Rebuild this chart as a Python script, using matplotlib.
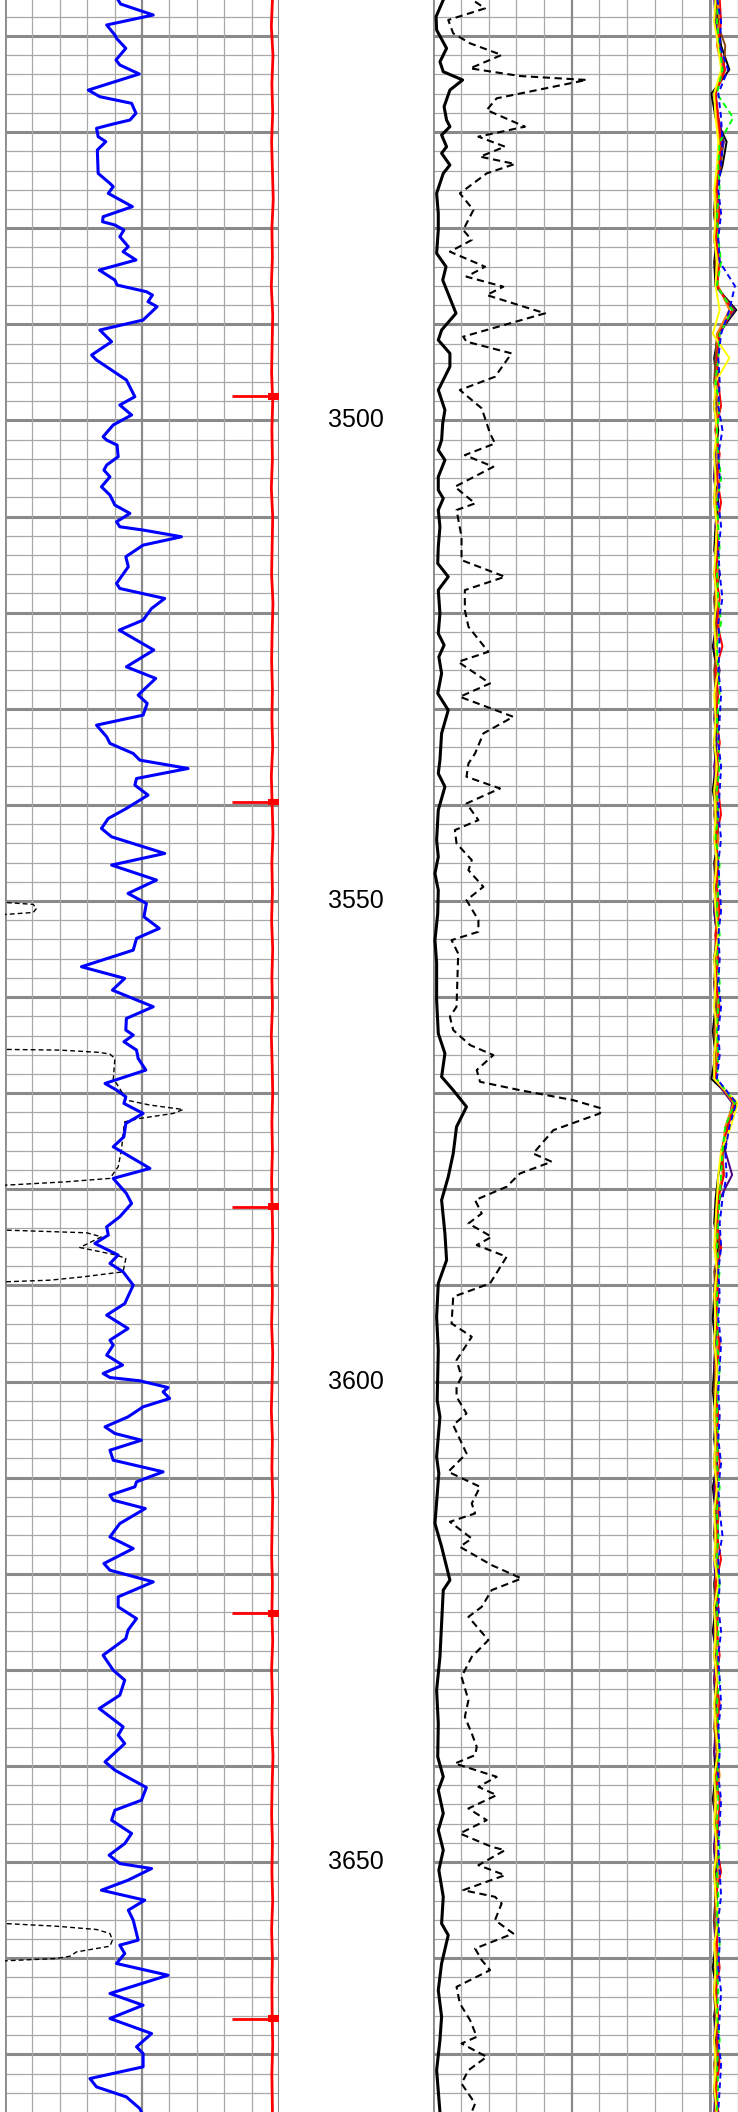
import numpy as np
import matplotlib.pyplot as plt

plt.rcParams['font.family'] = ['Liberation Sans', 'DejaVu Sans']

W, H = 738, 2112
top_md, base_md = 3456.25, 3676.0

# ---- track 1 : gamma ray (blue), dashed curve, red curve + tick marks
gr_md = [3456.25, 3456.67, 3457.81, 3458.85, 3459.89, 3460.24, 3461.28, 3462.49, 3463.01, 3463.95,
         3465.62, 3466.31, 3467.0, 3468.04, 3468.74, 3469.15, 3469.6, 3470.47, 3470.99, 3471.86,
         3474.29, 3475.33, 3475.67, 3476.37, 3477.75, 3478.8, 3479.32, 3479.66, 3480.18, 3480.88,
         3481.92, 3482.44, 3483.3, 3484.35, 3485.39, 3485.91, 3486.6, 3486.95, 3487.64, 3488.16,
         3489.55, 3490.59, 3491.8, 3493.19, 3493.71, 3495.79, 3497.53, 3498.39, 3499.43, 3500.47,
         3501.69, 3502.04, 3502.56, 3503.77, 3504.64, 3505.16, 3505.86, 3506.9, 3507.76, 3508.8,
         3509.67, 3510.54, 3511.06, 3511.4, 3512.1, 3512.97, 3514.18, 3515.22, 3516.96, 3517.48,
         3518.52, 3519.56, 3520.77, 3521.81, 3522.85, 3523.89, 3525.63, 3526.84, 3528.57, 3529.44,
         3530.66, 3531.7, 3532.91, 3533.6, 3534.65, 3535.34, 3536.21, 3537.25, 3537.94, 3538.98,
         3540.37, 3541.41, 3542.45, 3543.32, 3545.05, 3546.26, 3547.82, 3549.21, 3550.25, 3551.64,
         3552.85, 3553.89, 3555.11, 3556.84, 3558.05, 3559.27, 3561.0, 3562.22, 3563.43, 3563.95,
         3564.64, 3565.51, 3566.38, 3567.59, 3568.98, 3569.67, 3570.37, 3571.06, 3572.1, 3573.14,
         3574.53, 3575.57, 3577.82, 3578.86, 3580.43, 3581.47, 3582.85, 3583.9, 3584.76, 3585.63,
         3586.84, 3587.71, 3588.58, 3589.97, 3591.88, 3593.09, 3594.48, 3595.69, 3596.21, 3597.25,
         3598.29, 3599.16, 3599.58, 3599.92, 3600.62, 3601.07, 3601.76, 3602.63, 3603.67, 3604.71,
         3605.4, 3606.1, 3607.14, 3608.18, 3609.39, 3610.43, 3610.95, 3611.82, 3612.34, 3613.21,
         3614.77, 3616.16, 3617.37, 3618.93, 3619.63, 3620.84, 3622.4, 3623.44, 3624.66, 3625.87,
         3626.74, 3628.47, 3630.03, 3631.07, 3632.63, 3634.02, 3635.92, 3636.79, 3637.66, 3639.57,
         3640.43, 3642.24, 3643.56, 3644.6, 3645.64, 3647.02, 3648.07, 3649.28, 3650.15, 3650.67,
         3651.88, 3652.92, 3653.96, 3655.0, 3656.04, 3658.12, 3658.64, 3659.51, 3660.55, 3661.77,
         3663.67, 3664.89, 3666.27, 3667.84, 3669.22, 3669.92, 3671.3, 3672.52, 3673.39, 3674.43,
         3675.64, 3676.0]
gr = [41.3, 42.2, 54.1, 37.1, 40.1, 40.7, 44.1, 40.5, 41.9, 49.0,
      30.4, 34.6, 46.2, 47.8, 45.6, 39.5, 33.4, 34.0, 36.8, 33.7,
      34.0, 38.3, 39.5, 37.7, 46.5, 35.8, 35.6, 40.1, 43.4, 41.9,
      45.0, 43.1, 47.8, 34.4, 40.1, 40.9, 51.6, 53.8, 52.2, 55.5,
      50.4, 34.6, 38.9, 31.6, 33.4, 44.3, 47.4, 41.9, 46.2, 39.5,
      35.8, 37.1, 40.9, 41.3, 37.1, 36.1, 38.3, 35.2, 38.3, 40.1,
      45.6, 40.7, 41.9, 50.4, 64.4, 50.4, 44.1, 45.0, 40.7, 41.9,
      58.3, 53.5, 50.4, 41.7, 48.0, 54.3, 44.3, 55.0, 48.6, 51.9,
      50.4, 33.4, 37.1, 38.3, 46.8, 49.2, 66.8, 48.0, 47.4, 52.2,
      44.3, 37.7, 35.2, 38.9, 58.3, 38.9, 55.3, 44.9, 51.6, 50.7,
      56.3, 48.0, 46.8, 27.9, 43.7, 39.2, 54.1, 44.3, 44.1, 46.8,
      43.4, 48.0, 48.6, 51.4, 36.5, 40.7, 44.1, 43.4, 50.4, 44.1,
      43.4, 39.5, 52.9, 39.5, 44.3, 46.2, 41.9, 37.1, 37.7, 32.8,
      41.3, 38.3, 43.1, 46.8, 43.7, 37.1, 44.9, 38.3, 39.5, 37.1,
      42.9, 35.8, 38.3, 49.2, 59.5, 57.7, 60.1, 50.4, 44.9, 36.5,
      40.1, 49.8, 38.3, 39.5, 57.7, 48.0, 47.4, 38.3, 39.5, 51.2,
      41.9, 38.3, 46.8, 36.1, 38.3, 54.1, 41.3, 41.3, 48.0, 44.9,
      44.1, 35.8, 39.5, 43.7, 41.9, 34.4, 43.1, 41.3, 43.7, 36.5,
      40.1, 51.6, 49.8, 40.1, 38.9, 46.2, 43.7, 38.0, 41.9, 53.5,
      44.9, 35.2, 51.0, 45.0, 46.8, 48.6, 41.9, 43.7, 40.7, 59.5,
      38.3, 50.4, 38.3, 53.5, 48.0, 50.4, 50.4, 31.0, 33.4, 44.3,
      49.2, 49.8]

# thin dashed curve, off scale to the left most of the interval
sp_md = [3456.25, 3550.0, 3550.15, 3550.35, 3550.77, 3551.19, 3551.4, 3551.55,
         3565.3, 3565.44, 3565.51, 3565.75, 3565.93, 3566.38, 3568.63, 3568.98, 3570.37, 3570.71,
         3571.23, 3571.69, 3572.1, 3572.62, 3572.97, 3574.18, 3575.92, 3577.65, 3578.86, 3579.21,
         3579.56, 3579.7, 3584.1, 3584.24, 3584.52, 3584.94, 3586.05, 3586.84, 3587.19, 3588.58,
         3589.1, 3589.45, 3589.62, 3589.75, 3656.25, 3656.39, 3656.67, 3657.01, 3657.43, 3658.12,
         3658.75, 3659.34, 3659.79, 3660.03, 3660.27, 3660.4, 3676.0]
sp = [-30, -30, 0, 10.3, 11.5, 10.3, 0, -30,
      -30, 0, 20.0, 34.6, 38.3, 40.1, 39.5, 40.7, 43.7, 44.3,
      52.9, 65.0, 61.4, 49.2, 43.7, 43.1, 42.5, 41.3, 38.3, 22.5,
      0.6, -30, -30, 0, 29.8, 35.2, 27.3, 40.7, 44.1, 43.1,
      28.6, 16.4, 0, -30, -30, 0, 18.8, 33.4, 38.3, 39.2,
      38.3, 26.1, 23.7, 18.8, 0, -30, -30]

red_md = [3456.25, 3459, 3462, 3465, 3468, 3471, 3474, 3477, 3480, 3483, 3486, 3489, 3492,
          3495, 3498, 3501, 3504, 3507, 3510, 3513, 3516, 3519, 3522, 3525, 3528, 3531,
          3534, 3537, 3540, 3543, 3546, 3549, 3552, 3555, 3558, 3561, 3564, 3567, 3570,
          3573, 3576, 3579, 3582, 3585, 3588, 3591, 3594, 3597, 3600, 3603, 3606, 3609,
          3612, 3615, 3618, 3621, 3624, 3627, 3630, 3633, 3636, 3639, 3642, 3645, 3648,
          3651, 3654, 3657, 3660, 3663, 3666, 3669, 3672, 3676.0]
red = [97.6, 97.2, 97.8, 97.4, 97.7, 97.3, 97.6, 97.9, 97.4, 97.6, 97.2, 97.7, 97.5,
       97.3, 97.7, 97.4, 97.6, 97.2, 97.7, 97.5, 97.3, 97.8, 97.5, 97.3, 97.6, 97.4,
       97.7, 97.2, 97.5, 97.8, 97.4, 97.6, 97.3, 97.7, 97.4, 97.6, 97.2, 97.5, 97.7,
       97.4, 97.6, 97.3, 97.5, 97.7, 97.4, 97.6, 97.3, 97.7, 97.5, 97.2, 97.6, 97.4,
       97.7, 97.5, 97.3, 97.6, 97.4, 97.7, 97.3, 97.6, 97.4, 97.8, 97.5, 97.3, 97.6,
       97.4, 97.7, 97.3, 97.6, 97.4, 97.5, 97.7, 97.4, 97.6]
tick_md = [3497.5, 3539.7, 3581.8, 3624.1, 3666.3]

# ---- track 2 : thick solid (caliper-like) and thick dashed curve
cal_md = [3456.25, 3457.98, 3459.37, 3461.28, 3462.67, 3463.71, 3464.57, 3465.62, 3467.35, 3468.74,
          3469.43, 3470.3, 3471.51, 3472.2, 3473.42, 3474.29, 3476.37, 3478.45, 3480.18, 3482.61,
          3484.0, 3485.39, 3488.85, 3490.59, 3491.63, 3493.02, 3494.4, 3496.83, 3498.91, 3500.3,
          3502.04, 3503.08, 3504.12, 3505.86, 3507.24, 3508.11, 3509.32, 3511.06, 3513.14, 3514.87,
          3516.26, 3517.65, 3520.08, 3522.16, 3523.37, 3524.59, 3526.32, 3528.4, 3530.14, 3532.56,
          3535.34, 3536.73, 3538.11, 3540.54, 3543.66, 3545.4, 3547.13, 3548.87, 3551.3, 3554.07,
          3556.43, 3560.31, 3563.78, 3565.86, 3568.29, 3569.68, 3571.41, 3573.49, 3576.27, 3578.7,
          3581.12, 3584.59, 3587.37, 3589.79, 3593.26, 3596.73, 3601.93, 3603.66, 3607.83, 3609.56,
          3614.76, 3617.19, 3620.66, 3621.7, 3625.17, 3628.64, 3632.11, 3635.58, 3639.04, 3641.12,
          3642.51, 3644.94, 3646.67, 3648.76, 3650.84, 3653.61, 3656.39, 3657.6, 3660.55, 3663.32,
          3666.1, 3668.53, 3671.65, 3676.0]
cal = [3.6, 1.0, 1.2, 4.8, 2.4, 3.6, 10.6, 6.0, 3.9, 4.8,
       6.0, 3.0, 4.8, 3.0, 6.0, 3.6, 1.2, 1.8, 1.8, 1.2,
       4.6, 3.4, 8.2, 3.0, 1.8, 6.0, 6.0, 1.8, 4.2, 3.4,
       3.0, 1.8, 4.2, 1.8, 1.8, 3.6, 1.8, 2.4, 1.8, 1.6,
       5.4, 1.8, 2.4, 1.8, 3.9, 2.0, 3.0, 1.6, 5.4, 3.0,
       2.4, 1.8, 4.2, 1.8, 1.2, 1.8, 0.6, 1.8, 1.6, 0.6,
       1.2, 1.2, 1.8, 4.2, 3.0, 7.2, 12.0, 8.4, 7.2, 5.4,
       3.0, 4.2, 4.8, 1.8, 1.2, 1.8, 1.4, 2.4, 1.2, 2.0,
       0.6, 3.0, 6.0, 3.6, 3.0, 2.4, 1.2, 1.8, 1.6, 3.6,
       1.8, 3.6, 1.8, 3.6, 2.0, 3.6, 3.0, 5.4, 3.0, 1.8,
       3.0, 2.4, 1.2, 2.4]

dt_md = [3456.42, 3457.12, 3458.33, 3459.72, 3460.76, 3461.97, 3463.36, 3464.16, 3464.57, 3466.48,
         3467.7, 3469.43, 3470.47, 3471.51, 3472.55, 3473.31, 3474.29, 3476.37, 3478.1, 3480.18,
         3481.22, 3482.44, 3484.0, 3485.04, 3486.08, 3486.95, 3488.85, 3491.28, 3491.8, 3493.02,
         3495.45, 3496.83, 3498.74, 3501.34, 3502.39, 3503.6, 3504.82, 3506.9, 3508.63, 3509.32,
         3512.1, 3514.53, 3516.26, 3517.65, 3519.73, 3521.46, 3524.07, 3525.11, 3527.36, 3528.75,
         3530.83, 3532.56, 3534.64, 3535.69, 3537.07, 3538.29, 3539.85, 3541.58, 3542.62, 3544.01,
         3545.74, 3546.79, 3548.52, 3549.91, 3551.99, 3553.2, 3554.07, 3555.46, 3561.0, 3562.04,
         3563.43, 3564.99, 3566.03, 3567.59, 3568.81, 3569.68, 3570.72, 3571.58, 3572.1, 3573.84,
         3576.27, 3577.13, 3578.35, 3579.73, 3581.12, 3582.51, 3583.55, 3584.94, 3585.8, 3587.02,
         3589.79, 3591.18, 3593.95, 3595.34, 3597.77, 3599.5, 3600.55, 3601.58, 3603.32, 3604.53,
         3607.48, 3609.39, 3610.95, 3612.68, 3613.72, 3614.59, 3616.33, 3617.19, 3619.1, 3620.49,
         3621.7, 3623.44, 3624.48, 3626.9, 3628.64, 3630.72, 3633.15, 3634.88, 3636.62, 3638.0,
         3638.87, 3639.74, 3641.12, 3642.17, 3643.03, 3644.42, 3645.63, 3647.02, 3648.41, 3648.76,
         3650.32, 3651.36, 3652.92, 3653.61, 3654.3, 3656.04, 3657.43, 3658.99, 3660.2, 3661.24,
         3662.98, 3664.71, 3666.45, 3668.18, 3668.87, 3670.26, 3671.65, 3673.04, 3675.12, 3676.0]
dt = [15.1, 18.7, 5.4, 7.2, 13.3, 24.7, 13.3, 31.3, 55.4, 22.9,
      19.3, 33.1, 16.3, 25.9, 16.9, 29.5, 19.3, 9.6, 14.5, 10.8,
      13.9, 6.0, 18.7, 12.0, 25.3, 19.3, 40.4, 10.8, 12.0, 28.3,
      22.3, 9.6, 17.5, 20.5, 22.3, 11.4, 21.7, 7.8, 15.1, 8.4,
      10.2, 10.2, 25.9, 11.4, 11.4, 12.7, 19.9, 9.0, 20.5, 9.6,
      28.9, 18.1, 15.1, 12.7, 12.0, 24.1, 12.0, 16.3, 7.8, 8.4,
      13.9, 12.7, 18.1, 12.0, 16.3, 16.3, 6.6, 9.0, 8.4, 6.0,
      7.2, 13.3, 21.7, 15.7, 16.9, 31.3, 50.6, 60.8, 60.2, 43.4,
      36.1, 42.8, 31.3, 26.5, 15.1, 17.5, 12.7, 21.1, 15.7, 26.5,
      20.5, 7.2, 6.6, 13.9, 8.4, 10.2, 8.4, 8.4, 12.0, 7.2,
      12.0, 5.4, 16.9, 13.9, 15.1, 6.0, 13.9, 9.6, 21.1, 31.9,
      21.1, 17.5, 12.7, 19.9, 13.9, 10.2, 12.7, 11.4, 13.9, 15.7,
      15.1, 7.8, 22.9, 16.3, 22.9, 12.7, 19.3, 9.6, 21.1, 25.9,
      16.3, 25.9, 10.8, 22.3, 24.7, 22.3, 28.9, 15.1, 17.5, 20.5,
      8.4, 9.6, 13.3, 15.7, 10.2, 19.3, 12.7, 10.2, 15.1, 13.9]

# ---- track 3 : bundle of array curves hugging the left edge (2.5 m sampling)
t3_md = np.arange(3456.0, 3676.1, 2.5)
t3_black = [2.5, 3.0, 4.0, 7.0, 0.5, 2.0, 6.0, 4.5, 2.0, 1.5,
            2.5, 1.5, 2.0, 9.5, 3.0, 1.5, 2.5, 1.5, 3.0, 2.0,
            1.5, 3.0, 2.0, 1.5, 3.5, 1.5, 2.5, 1.0, 2.5, 2.0,
            3.0, 1.5, 2.0, 1.0, 2.5, 3.0, 1.5, 2.0, 1.5, 2.5,
            1.5, 2.5, 2.0, 1.0, 2.0, 0.5, 9.5, 6.0, 5.0, 3.0,
            2.0, 1.5, 3.0, 2.0, 1.5, 1.0, 2.0, 1.5, 1.0, 2.0,
            1.5, 2.5, 1.0, 2.0, 1.5, 2.5, 1.5, 2.0, 1.0, 2.5,
            1.5, 2.0, 3.0, 1.5, 2.0, 1.0, 2.5, 1.5, 2.0, 2.5,
            1.5, 2.0, 1.0, 2.5, 1.5, 2.0, 3.0, 1.5, 2.0]
t3_red = [3.5, 4.0, 3.0, 5.5, 2.0, 3.0, 4.0, 3.5, 2.5, 3.5,
          2.0, 3.5, 2.5, 8.0, 3.5, 2.5, 3.0, 4.0, 2.0, 3.5,
          2.5, 4.0, 2.5, 3.0, 2.0, 3.5, 2.5, 4.5, 2.0, 3.0,
          2.0, 3.5, 2.5, 3.0, 4.0, 2.0, 3.0, 2.5, 3.5, 2.0,
          3.0, 2.0, 3.5, 2.5, 3.0, 2.0, 9.0, 6.5, 4.0, 5.0,
          3.0, 2.5, 4.0, 2.5, 3.0, 2.0, 3.5, 2.5, 2.0, 3.0,
          2.5, 3.5, 2.0, 3.0, 2.5, 4.0, 2.0, 3.0, 2.5, 3.5,
          2.0, 3.5, 2.5, 3.0, 2.0, 3.5, 3.0, 2.5, 4.0, 2.0,
          3.0, 2.5, 3.5, 2.0, 3.0, 2.5, 3.5, 2.0, 3.0]
t3_green = [3.0, 2.5, 3.5, 4.5, 2.5, 8.4, 3.5, 3.0, 3.5, 2.5,
            3.0, 4.0, 2.5, 8.0, 3.5, 3.0, 2.0, 3.5, 2.5, 3.0,
            4.0, 2.5, 3.0, 3.5, 2.5, 3.0, 4.0, 2.5, 3.0, 3.5,
            2.5, 3.0, 3.5, 2.5, 3.0, 2.0, 3.5, 3.0, 2.5, 3.5,
            2.5, 3.5, 3.0, 2.5, 3.0, 2.5, 9.0, 5.5, 4.5, 4.0,
            3.5, 3.0, 2.5, 3.5, 2.5, 3.0, 2.5, 3.5, 3.0, 2.5,
            3.0, 2.5, 3.5, 2.5, 3.0, 2.5, 3.5, 2.5, 3.0, 2.5,
            3.5, 2.5, 3.0, 3.5, 2.5, 3.0, 2.5, 3.5, 2.5, 3.0,
            2.5, 3.5, 2.5, 3.0, 2.5, 3.5, 2.5, 3.0, 2.5]
t3_blue = [2.5, 4.0, 3.5, 6.5, 3.0, 4.0, 4.5, 4.0, 3.0, 4.0,
           3.0, 3.5, 9.0, 7.0, 4.0, 3.0, 3.5, 3.0, 4.5, 3.0,
           3.5, 3.0, 4.0, 3.0, 3.5, 4.5, 3.0, 3.5, 3.0, 4.0,
           3.5, 3.0, 4.0, 3.5, 3.0, 4.0, 3.0, 3.5, 4.0, 3.0,
           3.5, 3.0, 4.0, 3.0, 3.5, 2.5, 9.5, 7.0, 5.5, 6.0,
           4.5, 3.5, 4.0, 3.0, 3.5, 3.0, 4.0, 3.5, 3.0, 3.5,
           3.0, 4.0, 3.0, 3.5, 4.5, 3.0, 3.5, 3.0, 4.0, 3.0,
           3.5, 4.0, 3.0, 3.5, 3.0, 4.0, 3.5, 3.0, 3.5, 4.0,
           3.0, 3.5, 3.0, 4.0, 3.5, 3.0, 4.0, 3.5, 3.0]
t3_yellow = [2.0, 1.5, 3.0, 4.0, 1.5, 2.0, 3.0, 2.5, 1.5, 2.0,
             1.5, 2.5, 2.0, 3.5, 1.0, 7.0, 2.0, 1.5, 2.5, 1.5,
             2.0, 1.5, 2.5, 2.0, 1.5, 2.5, 1.5, 2.0, 3.0, 1.5,
             2.0, 1.5, 2.5, 1.5, 2.0, 1.5, 2.5, 1.5, 2.0, 3.0,
             1.5, 2.0, 1.5, 2.5, 1.5, 1.5, 10.0, 7.5, 4.0, 3.0,
             2.5, 2.0, 1.5, 2.5, 1.5, 2.0, 1.5, 2.5, 2.0, 1.5,
             2.0, 1.5, 2.5, 1.5, 2.0, 1.5, 3.0, 1.5, 2.0, 1.5,
             2.5, 1.5, 2.0, 3.0, 1.5, 2.0, 1.5, 2.5, 1.5, 2.0,
             3.0, 1.5, 2.0, 1.5, 2.5, 1.5, 2.0, 1.5, 2.5]
t3_orange = [2.5, 3.5, 2.5, 4.5, 2.0, 2.5, 3.5, 3.0, 2.0, 3.0,
             2.0, 2.5, 3.0, 7.0, 2.5, 3.0, 2.0, 3.0, 2.0, 2.5,
             3.5, 2.0, 2.5, 2.0, 3.0, 2.0, 3.5, 2.0, 2.5, 2.0,
             2.5, 3.5, 2.0, 2.5, 2.0, 3.0, 2.0, 2.5, 3.0, 2.0,
             2.5, 2.0, 3.0, 2.0, 2.5, 2.0, 8.5, 5.5, 4.5, 4.5,
             2.5, 3.0, 2.0, 3.0, 2.0, 2.5, 3.0, 2.0, 2.5, 2.0,
             3.0, 2.0, 2.5, 3.5, 2.0, 2.5, 2.0, 3.0, 2.0, 2.5,
             2.0, 3.0, 2.0, 2.5, 3.5, 2.0, 2.5, 2.0, 3.0, 2.0,
             2.5, 2.0, 3.0, 2.0, 2.5, 3.0, 2.0, 2.5, 2.0]
t3_brown = [2.0, 2.5, 5.5, 5.0, 1.5, 2.5, 4.5, 4.0, 2.0, 1.5,
            2.5, 2.0, 2.5, 8.5, 2.5, 2.0, 1.5, 2.5, 2.0, 3.0,
            2.0, 1.5, 2.5, 2.0, 3.0, 1.5, 2.0, 2.5, 1.5, 2.0,
            2.5, 1.5, 3.0, 2.0, 1.5, 2.5, 2.0, 1.5, 2.5, 2.0,
            2.0, 1.5, 2.5, 1.5, 2.0, 1.5, 9.0, 6.0, 4.5, 5.0,
            2.5, 2.0, 3.5, 1.5, 2.0, 2.5, 1.5, 2.0, 1.5, 2.5,
            2.0, 1.5, 2.5, 2.0, 1.5, 3.0, 2.0, 1.5, 2.0, 1.5,
            2.5, 2.0, 1.5, 2.5, 2.0, 1.5, 2.0, 2.5, 1.5, 2.0,
            1.5, 2.5, 2.0, 1.5, 2.0, 2.5, 1.5, 2.0, 2.0]
t3_indigo = [1.5, 2.0, 3.5, 4.5, 2.0, 3.0, 5.0, 3.5, 2.0, 2.5,
             1.5, 2.5, 2.0, 9.0, 3.0, 2.0, 2.5, 1.5, 2.5, 2.0,
             1.5, 2.5, 2.0, 3.0, 1.5, 2.5, 2.0, 1.5, 3.5, 2.0,
             1.5, 2.5, 1.5, 2.0, 3.0, 1.5, 2.5, 2.0, 1.5, 2.5,
             3.0, 1.5, 2.0, 2.5, 1.5, 1.5, 8.0, 6.5, 5.5, 8.0,
             3.5, 2.0, 4.0, 2.0, 1.5, 2.5, 2.0, 1.5, 2.5, 1.5,
             2.0, 2.5, 1.5, 2.0, 3.0, 1.5, 2.0, 2.5, 1.5, 2.0,
             1.5, 2.5, 2.0, 1.5, 3.0, 1.5, 2.0, 1.5, 2.5, 2.0,
             1.5, 2.0, 2.5, 1.5, 2.0, 1.5, 2.5, 2.0, 1.5]

depth_labels = [3500, 3550, 3600, 3650]

fig = plt.figure(figsize=(W / 100, H / 100), dpi=100)


def track(x0, x1):
    ax = fig.add_axes([x0 / W, 0, (x1 - x0) / W, 1])
    ax.set_xlim(0, 100)
    ax.set_ylim(base_md, top_md)
    ax.set_xticks([])
    ax.set_yticks([])
    for s in ax.spines.values():
        s.set_visible(False)
    for d in range(3458, 3676, 2):
        if d % 10 == 0:
            ax.axhline(d, color='#8a8a8a', lw=2.2, zorder=0)
        else:
            ax.axhline(d, color='#a8a8a8', lw=0.9, zorder=0)
    for v in range(10, 100, 10):
        if v == 50:
            ax.axvline(v, color='#8a8a8a', lw=1.6, zorder=0)
        else:
            ax.axvline(v, color='#a8a8a8', lw=0.9, zorder=0)
    ax.axvline(0, color='#8a8a8a', lw=2.0, zorder=0)
    ax.axvline(100, color='#8a8a8a', lw=2.2, zorder=0)
    return ax


ax1 = track(5, 279)
ax1.plot(gr, gr_md, color='#0000ff', lw=2.2, zorder=3)
ax1.plot(sp, sp_md, color='black', lw=1.0, dashes=(3.5, 2.2), zorder=2)
ax1.plot(red, red_md, color='#ff0000', lw=2.0, zorder=3)
ax1.hlines(tick_md, 83, 100, color='#ff0000', lw=2.0, zorder=3)
ax1.barh(tick_md, 4, left=96, height=0.7, color='#ff0000', zorder=3)

ax2 = track(433.3, 710)
ax2.plot(cal, cal_md, color='black', lw=2.2, zorder=3)
ax2.plot(dt, dt_md, color='black', lw=1.5, dashes=(3.5, 2.2), zorder=3)

ax3 = track(710, 986.7)
ax3.plot(t3_black, t3_md, color='black', lw=1.4)
ax3.plot(t3_indigo, t3_md, color='#4b0082', lw=1.4)
ax3.plot(t3_brown, t3_md, color='#8b4513', lw=1.4)
ax3.plot(t3_orange, t3_md, color='#ff8000', lw=1.4)
ax3.plot(t3_red, t3_md, color='#ff0000', lw=1.4)
ax3.plot(t3_yellow, t3_md, color='#ffff00', lw=1.4)
ax3.plot(t3_green, t3_md, color='#00ff00', lw=1.4, dashes=(3, 2))
ax3.plot(t3_blue, t3_md, color='#0000ff', lw=1.4, dashes=(3, 2))

axd = fig.add_axes([279 / W, 0, (433.3 - 279) / W, 1])
axd.set_xlim(0, 1)
axd.set_ylim(base_md, top_md)
axd.axis('off')
for d in depth_labels:
    axd.text(0.5, d, str(d), ha='center', va='center', fontsize=18, color='black')

fig.savefig('out.png', dpi=100)
